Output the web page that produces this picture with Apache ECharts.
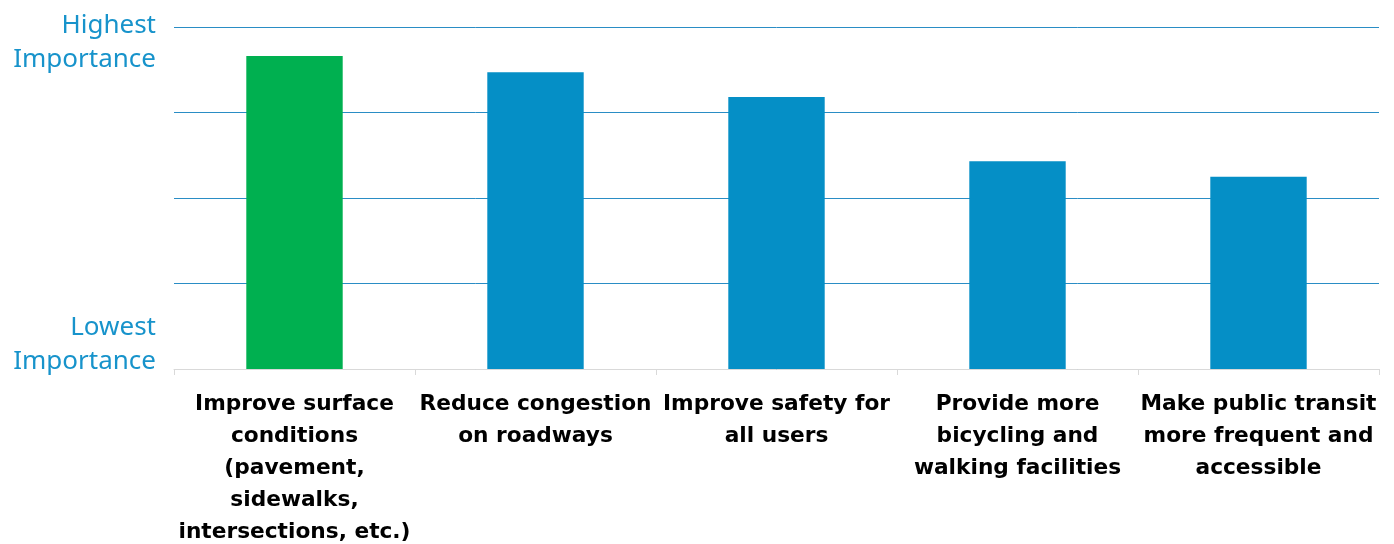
<!DOCTYPE html>
<html>
<head>
<meta charset="utf-8">
<script src="https://cdn.jsdelivr.net/npm/echarts@6/dist/echarts.min.js"></script>
<style>
html,body{margin:0;padding:0;background:#fff;}
#main{width:1394px;height:544px;}
</style>
</head>
<body>
<div id="main"></div>
<script>
const categories = [
  'Improve surface\nconditions\n(pavement,\nsidewalks,\nintersections, etc.)',
  'Reduce congestion\non roadways',
  'Improve safety for\nall users',
  'Provide more\nbicycling and\nwalking facilities',
  'Make public transit\nmore frequent and\naccessible'
];
const importance = [3.66, 3.47, 3.18, 2.43, 2.25];
const barColors = ['#00b050', '#058fc6', '#058fc6', '#058fc6', '#058fc6'];
const yTickLabels = ['Lowest\nImportance', '', '', '', 'Highest\nImportance'];

const chart = echarts.init(document.getElementById('main'), null, {renderer: 'canvas'});
chart.setOption({
  animation: false,
  backgroundColor: '#ffffff',
  grid: {left: 174, right: 15, top: 27, bottom: 175, containLabel: false, outerBoundsMode: 'none'},
  xAxis: {
    type: 'category',
    data: categories,
    axisLine: {show: true, lineStyle: {color: '#d9d9d9', width: 1}},
    axisTick: {show: true, length: 6, lineStyle: {color: '#d9d9d9'}},
    axisLabel: {
      interval: 0,
      margin: 19,
      color: '#000',
      fontFamily: 'DejaVu Sans',
      fontWeight: 'bold',
      fontSize: 21.7,
      lineHeight: 32
    }
  },
  yAxis: {
    type: 'value',
    min: 0, max: 4, interval: 1,
    axisLine: {show: false},
    axisTick: {show: false},
    splitLine: {show: true, lineStyle: {color: '#2a8dc5', width: 1}},
    axisLabel: {
      margin: 18,
      formatter: function (v) {
        const t = yTickLabels[Math.round(v)] || '';
        if (!t) return '';
        return v >= 4 ? '{top|' + t + '}' : '{bot|' + t + '}';
      },
      rich: {
        top: {color: '#1793cb', fontFamily: 'Noto Sans', fontSize: 26, lineHeight: 34, align: 'right', padding: [32, 0, 0, 0]},
        bot: {color: '#1793cb', fontFamily: 'Noto Sans', fontSize: 26, lineHeight: 34, align: 'right', padding: [0, 0, 49, 0]}
      }
    }
  },
  series: [{
    type: 'bar',
    data: importance.map((v, i) => ({value: v, itemStyle: {color: barColors[i]}})),
    barWidth: '40%'
  }]
});
</script>
</body>
</html>
